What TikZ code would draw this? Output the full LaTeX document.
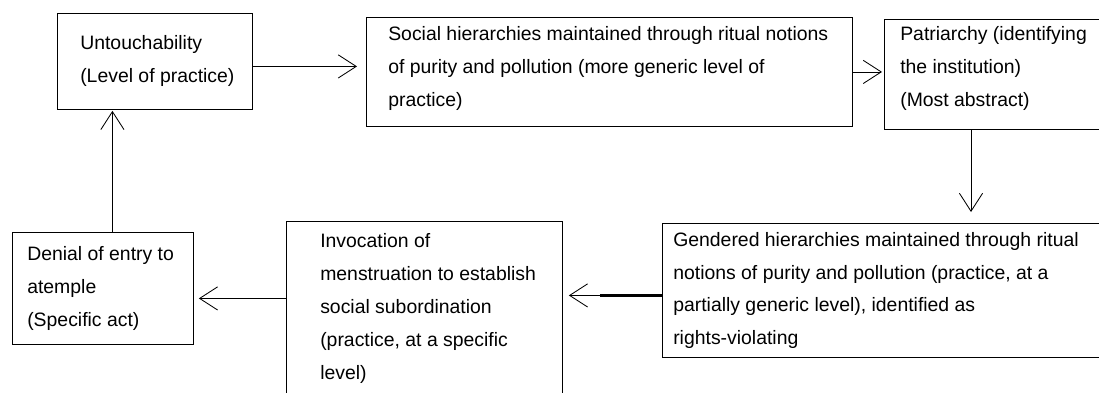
\documentclass[tikz,border=0pt]{standalone}
\usepackage{fontspec}
\setmainfont{Liberation Sans}
\usepackage{tikz}
\usetikzlibrary{arrows.meta, calc}

\begin{document}
\begin{tikzpicture}[scale=1, transform shape,
    box/.style={draw, line width=0.6pt, anchor=north west, inner sep=0pt},
    txt/.style={anchor=west, align=left, inner sep=0pt, font=\fontsize{13.8pt}{23.4pt}\selectfont},
    arr/.style={line width=0.6pt, -{Straight Barb[length=0.45cm, width=0.58cm]}}]
    \useasboundingbox (0, 0) rectangle (27.475, -9.8);
    \clip (0, 0) rectangle (27.475, -9.8);
    \node[box, minimum width=4.875cm, minimum height=2.4cm] (unt) at (1.425, -0.325) {};
    \node[txt] (untT) at ([xshift=0.575cm]unt.west) {Untouchability\\(Level of practice)};
    \node[box, minimum width=12.15cm, minimum height=2.725cm] (soc) at (9.15, -0.425) {};
    \node[txt] (socT) at ([xshift=0.55cm, yshift=0.09cm]soc.west) {Social hierarchies maintained through ritual notions\\of purity and pollution (more generic level of\\practice)};
    \node[box, minimum width=5.65cm, minimum height=2.75cm] (pat) at (22.1, -0.475) {};
    \node[txt] (patT) at ([xshift=0.4cm, yshift=0.15cm]pat.west) {Patriarchy (identifying\\the institution)\\(Most abstract)};
    \node[box, minimum width=11.2cm, minimum height=3.35cm] (gen) at (16.55, -5.575) {};
    \node[txt] (genT) at ([xshift=0.275cm]gen.west) {Gendered hierarchies maintained through ritual\\notions of purity and pollution (practice, at a\\partially generic level), identified as\\rights-violating};
    \node[box, minimum width=6.9cm, minimum height=4.35cm] (inv) at (7.15, -5.525) {};
    \node[txt] (invT) at ([xshift=0.85cm]inv.west) {Invocation of\\menstruation to establish\\social subordination\\(practice, at a specific\\level)};
    \node[box, minimum width=4.525cm, minimum height=2.8cm] (den) at (0.3, -5.8) {};
    \node[txt] (denT) at ([xshift=0.375cm]den.west) {Denial of entry to\\atemple\\(Specific act)};

    \draw [arr, shorten >=0.225cm] ([yshift=-0.125cm]unt.east) -- ([yshift=-0.125cm]unt.east -| soc.west);
    \draw [arr, shorten >=0.05cm] (soc.east) -- (soc.east -| pat.west);
    \draw [arr, shorten >=0.275cm] ([xshift=2.175cm]pat.south west) -- ([xshift=2.175cm]pat.south west |- gen.north);
    \draw [arr, shorten >=0.15cm] ([yshift=-0.125cm]gen.west) -- ([yshift=-0.125cm]gen.west -| inv.east);
    \draw [line width=2pt] ([yshift=-0.125cm]gen.west) -- ++(-1.55, 0);
    \draw [arr, shorten >=0.125cm] ([yshift=-0.25cm]den.east -| inv.west) -- ([yshift=-0.25cm]den.east);
    \draw [arr, shorten >=0.025cm] ([xshift=0.2375cm]den.north) -- ([xshift=0.2375cm]den.north |- unt.south);
  \end{tikzpicture}
\end{document}
